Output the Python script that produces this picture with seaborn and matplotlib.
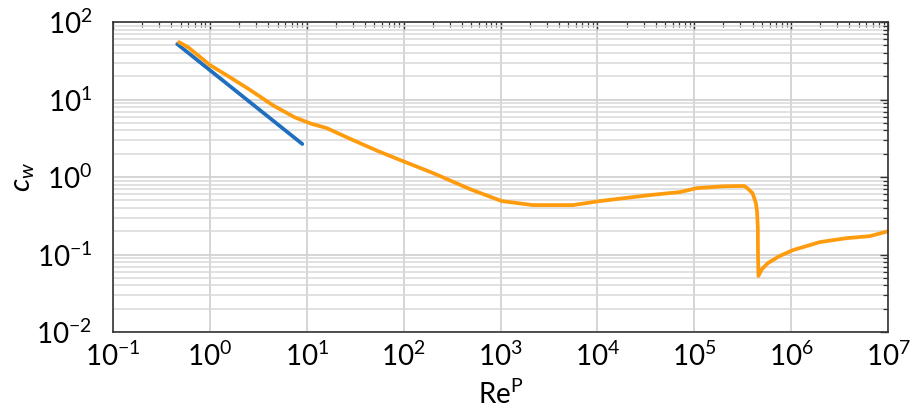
import numpy as np
import pandas as pd
import seaborn as sns
import matplotlib.pyplot as plt
from matplotlib.ticker import FixedLocator, LogLocator, NullFormatter

# Stokes-Gesetz (blau)
re_stokes = [0.46, 9.0]
cw_stokes = [52.0, 2.67]

# gemessene Widerstandskurve der Kugel (orange)
re_kugel = [0.48, 0.6, 0.8, 1.0, 1.6, 2.6, 4.5, 7.5, 11, 16, 30, 55, 92, 200, 483,
            1030, 2160, 5580, 1.06e4, 3.48e4, 7.1e4, 1.06e5, 2.0e5, 2.75e5, 3.3e5,
            3.57e5, 4.0e5, 4.33e5, 4.45e5, 4.53e5, 4.55e5, 4.6e5, 5.0e5, 5.76e5,
            7.5e5, 1.04e6, 1.98e6, 3.76e6, 6.5e6, 1.0e7]
cw_kugel = [55.0, 47.0, 35.0, 27.9, 19.5, 13.3, 8.4, 5.9, 4.9, 4.29, 3.0, 2.15, 1.66,
            1.13, 0.70, 0.49, 0.435, 0.435, 0.49, 0.586, 0.64, 0.72, 0.76, 0.766, 0.765,
            0.71, 0.62, 0.46, 0.36, 0.226, 0.10, 0.053, 0.065, 0.0777,
            0.095, 0.114, 0.145, 0.163, 0.173, 0.20]

x_dekaden = [1e-1, 1e0, 1e1, 1e2, 1e3, 1e4, 1e5, 1e6, 1e7]
y_dekaden = [1e-2, 1e-1, 1e0, 1e1, 1e2]

stokes = pd.DataFrame({'Re': re_stokes, 'cw': cw_stokes})
kugel = pd.DataFrame({'Re': re_kugel, 'cw': cw_kugel})

sns.set_theme(style='white')
plt.rcParams['font.family'] = ['Lato', 'DejaVu Sans']
plt.rcParams['mathtext.fontset'] = 'custom'
plt.rcParams['mathtext.rm'] = 'Lato'
plt.rcParams['mathtext.it'] = 'Lato:italic'
plt.rcParams['mathtext.sf'] = 'Lato'

fig = plt.figure(figsize=(9.13, 4.08), dpi=100)
ax = fig.add_axes([0.1238, 0.186, 0.8488, 0.760])

sns.lineplot(data=stokes, x='Re', y='cw', ax=ax, color='#1f6fbe', linewidth=2.7,
             sort=False, solid_capstyle='round')
sns.lineplot(data=kugel, x='Re', y='cw', ax=ax, color='#ff9c0e', linewidth=2.7,
             sort=False, solid_capstyle='round')

ax.set_xscale('log')
ax.set_yscale('log')
ax.set_xlim(1e-1, 1e7)
ax.set_ylim(1e-2, 1e2)

ax.xaxis.set_major_locator(FixedLocator(x_dekaden))
ax.yaxis.set_major_locator(FixedLocator(y_dekaden))
ax.xaxis.set_minor_locator(LogLocator(base=10, subs=np.arange(2, 10), numticks=100))
ax.yaxis.set_minor_locator(LogLocator(base=10, subs=np.arange(2, 10), numticks=100))
ax.xaxis.set_minor_formatter(NullFormatter())
ax.yaxis.set_minor_formatter(NullFormatter())

ax.grid(True, which='major', color='#d2d2d2', linewidth=1.3)
ax.yaxis.grid(True, which='minor', color='#d9d9d9', linewidth=1.1)
ax.xaxis.grid(False, which='minor')
ax.set_axisbelow(True)

ax.tick_params(which='both', direction='in', top=True, right=True, colors='#333333',
               labelcolor='black', labelsize=20)
ax.tick_params(which='major', length=6, width=1.0)
ax.tick_params(which='minor', length=3.5, width=0.9)
ax.tick_params(axis='y', which='major', pad=15)
ax.tick_params(axis='x', which='major', pad=7)
for s in ax.spines.values():
    s.set_color('#333333')
    s.set_linewidth(1.2)

ax.set_xlabel(r'$\mathrm{Re}^{\mathrm{P}}$', fontsize=20, labelpad=6, color='black')
ax.set_ylabel(r'$c_w$', fontsize=21, color='black')
ax.yaxis.set_label_coords(-0.098, 0.5)

fig.savefig('out.png', dpi=100)
